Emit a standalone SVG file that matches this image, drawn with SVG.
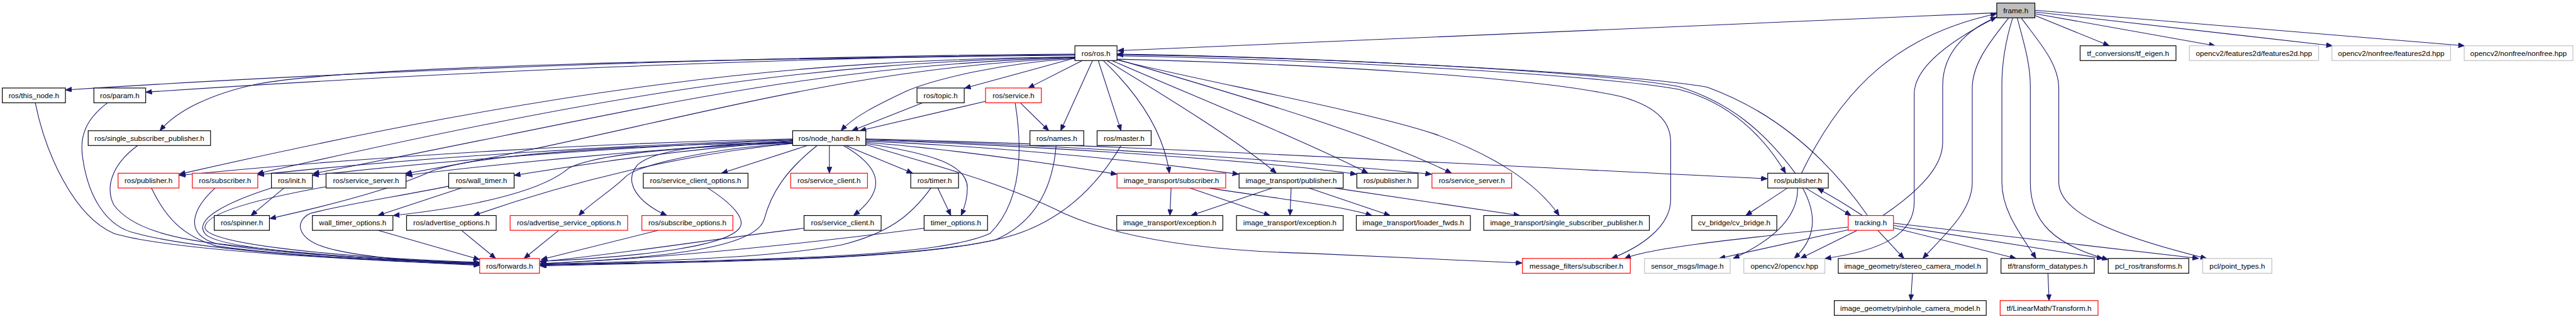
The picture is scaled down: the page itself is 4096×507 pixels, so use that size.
<svg xmlns="http://www.w3.org/2000/svg" width="4096" height="507" viewBox="0 0 4096 507">
<defs>
<style>
.b{fill:#fff;stroke:#000;stroke-width:1.3}
.r{fill:#fff;stroke:#ff0000;stroke-width:1.3}
.g{fill:#fff;stroke:#bfbfbf;stroke-width:1.3}
.root{fill:#bfbfbf;stroke:#000;stroke-width:1.3}
text{font-family:"Liberation Sans",Arial,Helvetica,sans-serif;font-size:13px;text-anchor:middle;fill:#000}
#edges path{fill:none;stroke:#191970;stroke-width:1.2;marker-end:url(#ah)}
</style>
<marker id="ah" viewBox="0 0 11 9" refX="11" refY="4.5" markerWidth="11" markerHeight="9" markerUnits="userSpaceOnUse" orient="auto">
<path d="M0,0 L11,4.5 L0,9 z" fill="#191970" stroke="#191970" stroke-width="0.8"/>
</marker>
</defs>
<rect width="4096" height="507" fill="#fff"/>
<g transform="scale(0.9048)">
<g id="edges">
<path d="M3509,22.5 L1964,89"/>
<path d="M3576,27 L3707,80.4"/>
<path d="M3576,24 L3893,80.4"/>
<path d="M3576,21 L4099,80.4"/>
<path d="M3576,18 L4331,80.4"/>
<path d="M3530,31.4 C3500,70 3466,110 3466,155 L3466,320 C3466,370 3420,410 3379,454"/>
<path d="M3537,31.4 C3525,70 3518,110 3518,150 L3518,320 C3518,370 3550,410 3578,454"/>
<path d="M3545,31.4 C3555,70 3568,110 3568,150 L3568,320 C3568,390 3610,430 3705,456"/>
<path d="M3552,31.4 C3580,70 3618,110 3618,155 L3618,320 C3618,370 3700,410 3878,454"/>
<path d="M3506,31.4 C3450,60 3364,110 3364,165 L3364,355 C3364,410 3310,440 3207,454"/>
<path d="M3166,304.3 C3240,150 3340,60 3509,24"/>
<path d="M3309,378.6 C3380,330 3414,290 3414,250 L3414,150 C3414,90 3460,50 3509,30"/>
<path d="M3155,304.3 C3100,230 3040,180 2950,152 C2800,125 2300,100 1963,95"/>
<path d="M1963,98 C2300,104 2800,130 2950,157 C3040,180 3100,240 3138,304.3"/>
<path d="M3282,378.6 C3220,290 3130,200 3000,153 C2850,127 2300,100 1963,96"/>
<path d="M1963,104 C2300,112 2700,135 2850,170 C2920,190 2936,220 2936,250 L2936,350 C2936,400 2880,435 2832,454"/>
<path d="M1962,105 C2100,140 2400,195 2520,235 C2620,270 2700,320 2740,378.6"/>
<path d="M1962,104 C2150,160 2400,230 2551,304.3"/>
<path d="M1954,106.4 C2100,170 2300,250 2404,304.3"/>
<path d="M1945,106.4 C2050,170 2180,250 2243,304.3"/>
<path d="M1939,106.4 C2000,165 2045,230 2055,304.3"/>
<path d="M1930,106.4 L1970,229.6"/>
<path d="M1920,106.4 L1864,229.6"/>
<path d="M1902,106.4 L1807,154.6"/>
<path d="M1889,102 L1695,155"/>
<path d="M1889,103 C1760,110 1640,140 1593,160 C1540,185 1500,205 1478,229.6"/>
<path d="M1889,95 C1400,98 700,120 115,158"/>
<path d="M1889,96 C1400,100 750,128 256,162"/>
<path d="M1889,97 C1300,103 620,115 450,148 C370,165 310,195 281,229.6"/>
<path d="M1889,100 C1400,105 1000,150 315,306"/>
<path d="M1889,100 C1400,110 1050,170 452,305"/>
<path d="M1889,101 C1400,115 1100,200 550,305"/>
<path d="M1889,102 C1450,120 1150,230 712,305"/>
<path d="M1393,244 C1100,250 700,270 315,308"/>
<path d="M1393,245 C1100,255 750,275 453,307"/>
<path d="M1393,246 C1100,258 800,280 549,308"/>
<path d="M1393,247 C1150,262 900,285 713.5,308"/>
<path d="M1393,248 C1200,262 1050,285 903.5,308"/>
<path d="M1393,250 C1100,255 850,270 760,300 C720,318 650,345 474,384"/>
<path d="M1393,251 C1200,258 1050,270 1000,295 C960,330 860,360 691,378.6"/>
<path d="M1393,252 C1200,270 1000,320 832,378.6"/>
<path d="M1393,252 C1250,260 1120,290 1100,310 C1075,335 1040,355 1017,378.6"/>
<path d="M1393,250 C1250,252 1150,262 1120,290 C1095,320 1120,355 1172,378.6"/>
<path d="M1419,255.6 L1268,304.3"/>
<path d="M1457.5,255.6 L1457.5,304.3"/>
<path d="M1436,255.6 C1380,300 1355,340 1343,385 C1330,430 1200,452 949,463"/>
<path d="M1482,255.6 C1560,300 1550,340 1500,378.6"/>
<path d="M1486,255.6 L1604,304.3"/>
<path d="M1521,252 C1640,270 1700,290 1700,330 C1700,350 1695,365 1689,378.6"/>
<path d="M1521,250 C1650,260 1800,280 1963,306"/>
<path d="M1521,248 C1700,255 1950,275 2177,306"/>
<path d="M1521,246 C1800,255 2200,280 2384,306"/>
<path d="M1521,245 C1900,255 2300,285 2516,306"/>
<path d="M1521,244 C2000,255 2600,290 3106,314"/>
<path d="M1521,254 C1640,290 1760,320 1870,375 C1960,415 2100,440 2300,445 L2675,462"/>
<path d="M1621,180.6 L1497,229.6"/>
<path d="M1732,178 L1511,229.6"/>
<path d="M1793,180.6 L1843,229.6"/>
<path d="M1784,180.6 C1800,280 1790,360 1740,410 C1650,450 1400,455 949,465"/>
<path d="M1856,255.6 C1850,330 1820,390 1750,421 C1600,455 1300,458 949,466"/>
<path d="M1970,255.6 C1920,340 1850,400 1750,421 C1600,456 1300,459 949,467"/>
<path d="M1648,330.3 L1671,378.6"/>
<path d="M1636,330.3 C1600,380 1560,410 1480,430 C1350,455 1100,460 949,464"/>
<path d="M1624,401 C1400,430 1150,455 949,463"/>
<path d="M1413,401 C1250,420 1100,445 949,460"/>
<path d="M1244,330.3 C1290,360 1310,385 1300,400 C1280,430 1150,450 949,459"/>
<path d="M1157,404.6 L951,456"/>
<path d="M982,404.6 L921,454"/>
<path d="M811,404.6 L871,454"/>
<path d="M664,404.6 L843,456"/>
<path d="M811,330.3 L664,378.6"/>
<path d="M788.5,327 C700,345 600,360 545,375 C515,390 520,425 593,440 C660,455 780,462 843,464"/>
<path d="M62,180.6 C80,270 130,380 200,410 C300,440 600,455 843,466"/>
<path d="M189,180.6 C150,210 140,240 145,275 C155,350 190,400 240,410 C350,440 600,455 843,465"/>
<path d="M242,255.6 C195,290 185,330 200,360 C230,400 300,420 400,430 C550,448 700,458 843,464"/>
<path d="M266,330.3 C290,380 320,415 380,432 C500,450 700,458 843,463"/>
<path d="M378,330.3 C340,365 320,410 380,428 C500,448 700,457 843,462"/>
<path d="M477,330.3 C400,355 340,385 360,410 C380,440 650,455 843,462"/>
<path d="M573,328 C450,350 360,375 360,400 C365,430 600,452 843,461"/>
<path d="M499,330.3 L441,378.6"/>
<path d="M2058,330.3 L2056,378.6"/>
<path d="M2091,330.3 L2232,378.6"/>
<path d="M2125,330.3 C2250,350 2350,360 2411,378.6"/>
<path d="M2236,330.3 L2093,378.6"/>
<path d="M2269,330.3 L2267,378.6"/>
<path d="M2300,330.3 L2443,378.6"/>
<path d="M2346,330.3 L2671,378.6"/>
<path d="M3141,330.3 L3068,378.6"/>
<path d="M3173,330.3 L3253,378.6"/>
<path d="M3273,378.6 C3245,360 3222,346 3194,331"/>
<path d="M3159,330.3 C3160,380 3120,420 3046,454"/>
<path d="M3168,330.3 C3195,380 3190,420 3153,454"/>
<path d="M3264,404.6 L3164,454"/>
<path d="M3248,403.6 L3021,454"/>
<path d="M3248,399 C3050,420 2900,435 2855,454"/>
<path d="M3300,404.6 L3346,454"/>
<path d="M3327.5,400 L3543,454"/>
<path d="M3327.5,396 L3696,454"/>
<path d="M3327.5,392 L3864,454"/>
<path d="M3361,480 L3358,528"/>
<path d="M3599,480 L3601,528"/>
</g>
<g id="n_frame"><rect class="root" x="3509" y="5.4" width="67" height="26"/><text x="3542.5" y="22.9">frame.h</text></g>
<g id="n_ros_h"><rect class="b" x="1889" y="80.4" width="74" height="26"/><text x="1926" y="97.9">ros/ros.h</text></g>
<g id="n_tf_eigen"><rect class="b" x="3655.5" y="80.4" width="168.5" height="26"/><text x="3739.75" y="97.9">tf_conversions/tf_eigen.h</text></g>
<g id="n_feat2d"><rect class="g" x="3847.5" y="80.4" width="227" height="26"/><text x="3961" y="97.9">opencv2/features2d/features2d.hpp</text></g>
<g id="n_nf_feat"><rect class="g" x="4098" y="80.4" width="208.5" height="26"/><text x="4202.25" y="97.9">opencv2/nonfree/features2d.hpp</text></g>
<g id="n_nonfree"><rect class="g" x="4330.5" y="80.4" width="191" height="26"/><text x="4426" y="97.9">opencv2/nonfree/nonfree.hpp</text></g>
<g id="n_this_node"><rect class="b" x="4" y="154.6" width="111" height="26"/><text x="59.5" y="172.1">ros/this_node.h</text></g>
<g id="n_param"><rect class="b" x="165" y="154.6" width="91" height="26"/><text x="210.5" y="172.1">ros/param.h</text></g>
<g id="n_topic"><rect class="b" x="1611.5" y="154.6" width="83" height="26"/><text x="1653" y="172.1">ros/topic.h</text></g>
<g id="n_service"><rect class="r" x="1732" y="154.6" width="98" height="26"/><text x="1781" y="172.1">ros/service.h</text></g>
<g id="n_ssp"><rect class="b" x="155" y="229.6" width="215" height="26"/><text x="262.5" y="247.1">ros/single_subscriber_publisher.h</text></g>
<g id="n_node_handle"><rect class="b" x="1393" y="229.6" width="128.5" height="26"/><text x="1457.25" y="247.1">ros/node_handle.h</text></g>
<g id="n_names"><rect class="b" x="1810" y="229.6" width="94.5" height="26"/><text x="1857.25" y="247.1">ros/names.h</text></g>
<g id="n_master"><rect class="b" x="1928" y="229.6" width="95" height="26"/><text x="1975.5" y="247.1">ros/master.h</text></g>
<g id="n_pub_red"><rect class="r" x="207.5" y="304.3" width="107" height="26"/><text x="261" y="321.8">ros/publisher.h</text></g>
<g id="n_sub_red"><rect class="r" x="338" y="304.3" width="115" height="26"/><text x="395.5" y="321.8">ros/subscriber.h</text></g>
<g id="n_init"><rect class="b" x="477" y="304.3" width="72" height="26"/><text x="513" y="321.8">ros/init.h</text></g>
<g id="n_srv_server"><rect class="b" x="573" y="304.3" width="140.5" height="26"/><text x="643.25" y="321.8">ros/service_server.h</text></g>
<g id="n_wall_timer"><rect class="b" x="788.5" y="304.3" width="115" height="26"/><text x="846" y="321.8">ros/wall_timer.h</text></g>
<g id="n_sco"><rect class="b" x="1130.5" y="304.3" width="184" height="26"/><text x="1222.5" y="321.8">ros/service_client_options.h</text></g>
<g id="n_sc_red"><rect class="r" x="1389.5" y="304.3" width="135" height="26"/><text x="1457" y="321.8">ros/service_client.h</text></g>
<g id="n_timer"><rect class="b" x="1600.5" y="304.3" width="84" height="26"/><text x="1642.5" y="321.8">ros/timer.h</text></g>
<g id="n_it_sub"><rect class="r" x="1963" y="304.3" width="191" height="26"/><text x="2058.5" y="321.8">image_transport/subscriber.h</text></g>
<g id="n_it_pub"><rect class="b" x="2177.5" y="304.3" width="183" height="26"/><text x="2269" y="321.8">image_transport/publisher.h</text></g>
<g id="n_pub_mid"><rect class="b" x="2384.5" y="304.3" width="107.5" height="26"/><text x="2438.25" y="321.8">ros/publisher.h</text></g>
<g id="n_srv_red"><rect class="r" x="2516.5" y="304.3" width="140" height="26"/><text x="2586.5" y="321.8">ros/service_server.h</text></g>
<g id="n_pub_right"><rect class="b" x="3106.5" y="304.3" width="106.5" height="26"/><text x="3159.75" y="321.8">ros/publisher.h</text></g>
<g id="n_spinner"><rect class="b" x="376.5" y="378.6" width="97" height="26"/><text x="425" y="396.1">ros/spinner.h</text></g>
<g id="n_wto"><rect class="b" x="549" y="378.6" width="141.5" height="26"/><text x="619.75" y="396.1">wall_timer_options.h</text></g>
<g id="n_adv_opt"><rect class="b" x="714.5" y="378.6" width="157.5" height="26"/><text x="793.25" y="396.1">ros/advertise_options.h</text></g>
<g id="n_adv_srv"><rect class="r" x="896.5" y="378.6" width="206.5" height="26"/><text x="999.75" y="396.1">ros/advertise_service_options.h</text></g>
<g id="n_sub_opt"><rect class="r" x="1128" y="378.6" width="160" height="26"/><text x="1208" y="396.1">ros/subscribe_options.h</text></g>
<g id="n_sc"><rect class="b" x="1413" y="378.6" width="135.5" height="26"/><text x="1480.75" y="396.1">ros/service_client.h</text></g>
<g id="n_timer_opt"><rect class="b" x="1624" y="378.6" width="111.5" height="26"/><text x="1679.75" y="396.1">timer_options.h</text></g>
<g id="n_it_exc1"><rect class="b" x="1962.5" y="378.6" width="186.5" height="26"/><text x="2055.75" y="396.1">image_transport/exception.h</text></g>
<g id="n_it_exc2"><rect class="b" x="2173" y="378.6" width="187.5" height="26"/><text x="2266.75" y="396.1">image_transport/exception.h</text></g>
<g id="n_loader"><rect class="b" x="2383.5" y="378.6" width="200.5" height="26"/><text x="2483.75" y="396.1">image_transport/loader_fwds.h</text></g>
<g id="n_it_ssp"><rect class="b" x="2607.5" y="378.6" width="291" height="26"/><text x="2753" y="396.1">image_transport/single_subscriber_publisher.h</text></g>
<g id="n_cv_bridge"><rect class="b" x="2973" y="378.6" width="149.5" height="26"/><text x="3047.75" y="396.1">cv_bridge/cv_bridge.h</text></g>
<g id="n_tracking"><rect class="r" x="3248" y="378.6" width="79.5" height="26"/><text x="3287.75" y="396.1">tracking.h</text></g>
<g id="n_forwards"><rect class="r" x="843" y="454" width="105" height="26"/><text x="895.5" y="471.5">ros/forwards.h</text></g>
<g id="n_mf_sub"><rect class="r" x="2675.5" y="454" width="189.5" height="26"/><text x="2770.25" y="471.5">message_filters/subscriber.h</text></g>
<g id="n_sensor_img"><rect class="g" x="2890" y="454" width="150.5" height="26"/><text x="2965.25" y="471.5">sensor_msgs/Image.h</text></g>
<g id="n_opencv"><rect class="g" x="3064.5" y="454" width="142.5" height="26"/><text x="3135.75" y="471.5">opencv2/opencv.hpp</text></g>
<g id="n_stereo"><rect class="b" x="3230.5" y="454" width="261.5" height="26"/><text x="3361.25" y="471.5">image_geometry/stereo_camera_model.h</text></g>
<g id="n_tf_dt"><rect class="b" x="3516.5" y="454" width="164" height="26"/><text x="3598.5" y="471.5">tf/transform_datatypes.h</text></g>
<g id="n_pcl_tf"><rect class="b" x="3705" y="454" width="141.5" height="26"/><text x="3775.75" y="471.5">pcl_ros/transforms.h</text></g>
<g id="n_pcl_pt"><rect class="g" x="3871" y="454" width="121.5" height="26"/><text x="3931.75" y="471.5">pcl/point_types.h</text></g>
<g id="n_pinhole"><rect class="b" x="3223.5" y="528" width="267" height="26"/><text x="3357" y="545.5">image_geometry/pinhole_camera_model.h</text></g>
<g id="n_linmath"><rect class="r" x="3515" y="528" width="172" height="26"/><text x="3601" y="545.5">tf/LinearMath/Transform.h</text></g>
</g>
</svg>
